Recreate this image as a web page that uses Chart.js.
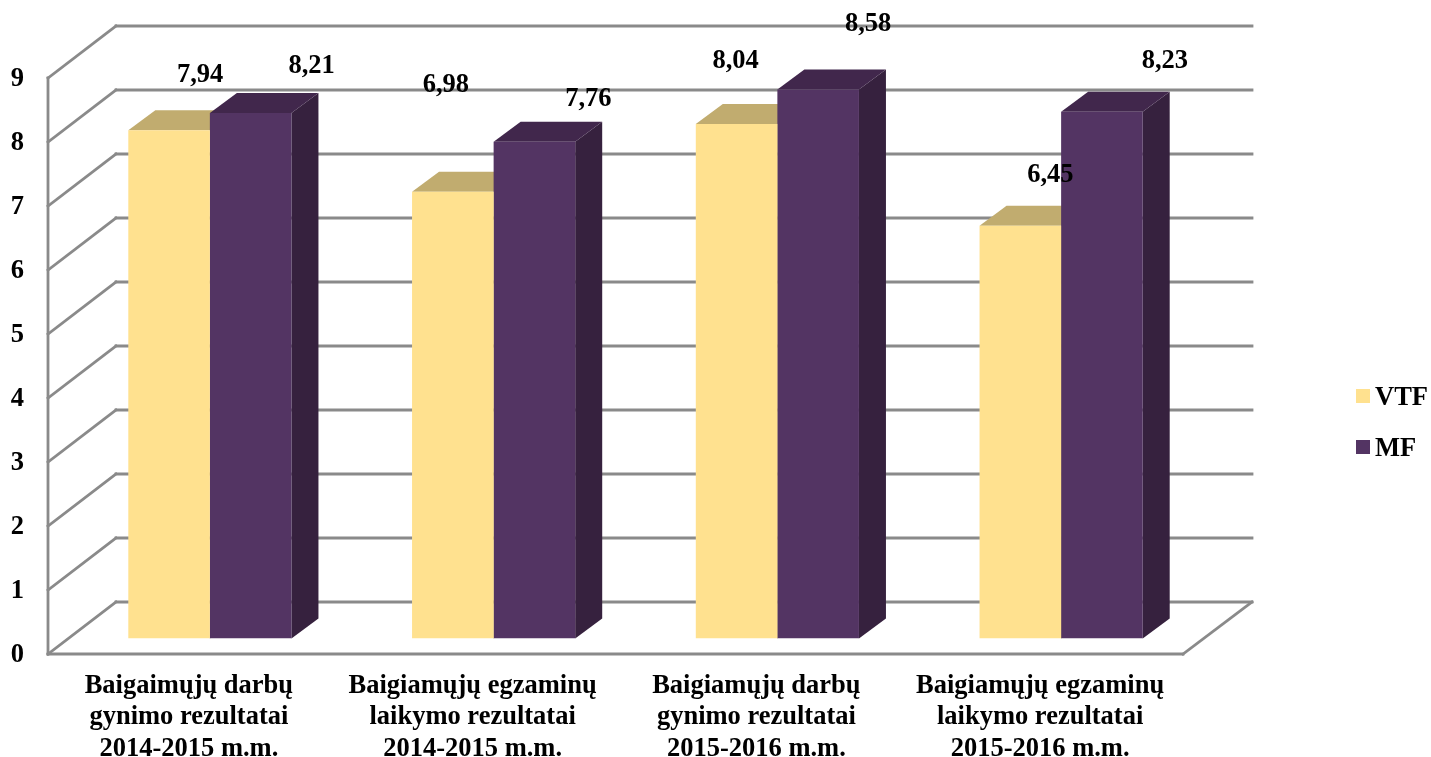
<!DOCTYPE html>
<html>
<head>
<meta charset="utf-8">
<title>Baigiamųjų darbų ir egzaminų rezultatai</title>
<script src="https://cdn.jsdelivr.net/npm/chart.js@4"></script>
<style>
  html, body { margin: 0; padding: 0; background: #fff; }
  canvas { display: block; }
</style>
</head>
<body>
<canvas id="myChart" width="1431" height="757"></canvas>
<script>
const categories = [
    ['Baigaimųjų darbų', 'gynimo rezultatai', '2014-2015 m.m.'],
    ['Baigiamųjų egzaminų', 'laikymo rezultatai', '2014-2015 m.m.'],
    ['Baigiamųjų darbų', 'gynimo rezultatai', '2015-2016 m.m.'],
    ['Baigiamųjų egzaminų', 'laikymo rezultatai', '2015-2016 m.m.']
];
const vtfValues = [7.94, 6.98, 8.04, 6.45];
const mfValues = [8.21, 7.76, 8.58, 8.23];
const seriesNames = ['VTF', 'MF'];

const FONT = 'bold 26.5px "Liberation Serif"';
const GRID = '#8a8a8a';
const frontColors = ['#ffe18f', '#533463'];
const topColors = ['#c1ac6f', '#41274c'];
const sideColors = ['#a8955f', '#36213e'];

// the labels sit off their bars in the original, so each one has its own shift
const labelShift = [
    [[31, -55], [-7, -107], [-1, -63], [30, -51]],
    [[61, -47], [54, -43], [50, -65], [63, -51]]
];

function poly(ctx, pts, fill) {
    ctx.beginPath();
    pts.forEach((p, i) => i ? ctx.lineTo(p[0], p[1]) : ctx.moveTo(p[0], p[1]));
    ctx.closePath();
    ctx.fillStyle = fill;
    ctx.fill();
}

function line(ctx, x1, y1, x2, y2) {
    ctx.beginPath();
    ctx.moveTo(x1, y1);
    ctx.lineTo(x2, y2);
    ctx.stroke();
}

const box3d = {
    id: 'box3d',
    beforeDatasetsDraw(chart) {
        const ctx = chart.ctx;
        const y = chart.scales.y;
        const { left, right } = chart.chartArea;

        // walls and floor
        ctx.save();
        ctx.strokeStyle = GRID;
        ctx.lineWidth = 2.8;
        ctx.lineCap = 'square';
        y.ticks.forEach(t => {
            const py = y.getPixelForValue(t.value);
            line(ctx, left + 48, py - 36.5, right + 49, py - 36.5);
            line(ctx, left - 20, py + 15.5, left + 48, py - 36.5);
        });
        const y0 = y.getPixelForValue(0);
        const y9 = y.getPixelForValue(9);
        line(ctx, left - 20, y9 + 15.5, left - 20, y0 + 15.5);
        line(ctx, left - 20, y0 + 15.5, right - 20, y0 + 15.5);
        line(ctx, right - 20, y0 + 15.5, right + 49, y0 - 36.5);
        ctx.restore();

        // top and side of the bars
        const dx = 27, dy = -20;
        chart.data.datasets.forEach((ds, i) => {
            chart.getDatasetMeta(i).data.forEach(bar => {
                const l = bar.x - bar.width / 2;
                const r = bar.x + bar.width / 2;
                poly(ctx, [[r, bar.y], [r + dx, bar.y + dy], [r + dx, bar.base + dy], [r, bar.base]], sideColors[i]);
                poly(ctx, [[l, bar.y], [l + dx, bar.y + dy], [r + dx, bar.y + dy], [r, bar.y]], topColors[i]);
            });
        });
    },
    afterDatasetsDraw(chart) {
        const ctx = chart.ctx;
        ctx.save();
        ctx.font = FONT;
        ctx.fillStyle = '#000';
        ctx.textAlign = 'center';
        ctx.textBaseline = 'middle';
        chart.data.datasets.forEach((ds, i) => {
            chart.getDatasetMeta(i).data.forEach((bar, j) => {
                const s = labelShift[i][j];
                ctx.fillText(ds.data[j].toFixed(2).replace('.', ','), bar.x + s[0], bar.y + s[1]);
            });
        });

        // legend
        ctx.textAlign = 'left';
        chart.data.datasets.forEach((ds, i) => {
            const ly = 389 + i * 51;
            ctx.fillStyle = ds.backgroundColor;
            ctx.fillRect(1356, ly, 14, 14);
            ctx.fillStyle = '#000';
            ctx.fillText(ds.label, 1375, ly + 9);
        });
        ctx.restore();
    }
};

const ctx = document.getElementById('myChart').getContext('2d');
new Chart(ctx, {
    type: 'bar',
    data: {
        labels: categories,
        datasets: [
            { label: seriesNames[0], data: vtfValues, backgroundColor: frontColors[0] },
            { label: seriesNames[1], data: mfValues, backgroundColor: frontColors[1] }
        ]
    },
    options: {
        responsive: false,
        animation: false,
        layout: { padding: { top: 62.5, right: 228 } },
        datasets: { bar: { categoryPercentage: 0.575, barPercentage: 1, borderWidth: 0 } },
        plugins: { legend: { display: false }, tooltip: { enabled: false } },
        scales: {
            x: {
                grid: { display: false },
                border: { display: false },
                afterFit: s => { s.height = 118.5; },
                ticks: {
                    color: '#000',
                    font: { family: '"Liberation Serif"', size: 26.5, weight: 'bold', lineHeight: 1.18 },
                    maxRotation: 0,
                    autoSkip: false,
                    labelOffset: -21,
                    padding: 24
                }
            },
            y: {
                min: 0,
                max: 9,
                grid: { display: false },
                border: { display: false },
                afterFit: s => { s.width = 68; },
                ticks: {
                    color: '#000',
                    stepSize: 1,
                    font: { family: '"Liberation Serif"', size: 26.5, weight: 'bold' },
                    labelOffset: 17,
                    padding: 36
                }
            }
        }
    },
    plugins: [box3d]
});
</script>
</body>
</html>
